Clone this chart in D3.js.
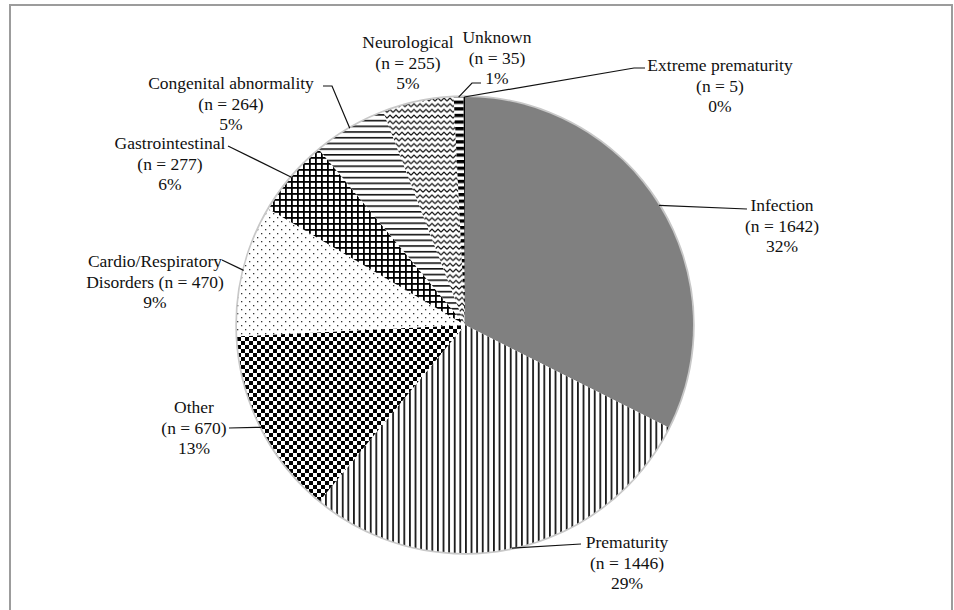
<!DOCTYPE html>
<html><head><meta charset="utf-8">
<script src="https://cdn.jsdelivr.net/npm/d3@7"></script>
<style>html,body{margin:0;padding:0;background:#fff;} svg{display:block;}</style>
</head><body>
<svg id="chart" width="954" height="610"></svg>
<script>
// ---- data ----
const categories = ["Infection", "Prematurity", "Other", "Cardio/Respiratory Disorders", "Gastrointestinal", "Congenital abnormality", "Neurological", "Unknown", "Extreme prematurity"];
const counts = [1642, 1446, 670, 470, 277, 264, 255, 35, 5];
const percents = ["32%", "29%", "13%", "9%", "6%", "5%", "5%", "1%", "0%"];
const labelText = [
  ["Infection", "(n = 1642)", "32%"],
  ["Prematurity", "(n = 1446)", "29%"],
  ["Other", "(n = 670)", "13%"],
  ["Cardio/Respiratory", "Disorders (n = 470)", "9%"],
  ["Gastrointestinal", "(n = 277)", "6%"],
  ["Congenital abnormality", "(n = 264)", "5%"],
  ["Neurological", "(n = 255)", "5%"],
  ["Unknown", "(n = 35)", "1%"],
  ["Extreme prematurity", "(n = 5)", "0%"]
];

// ---- layout (positions / styles) ----
const W = 954, H = 610;
const cx = 465, cy = 325, R = 228;
const lineH = 20.5;
const layout = [
  {x: 782, y: 211, pts: [[747, 209]]},
  {x: 627, y: 548, pts: [[581, 544]]},
  {x: 194, y: 413, pts: [[229, 428]]},
  {x: 155, y: 267, pts: [[222, 260]]},
  {x: 170, y: 149, pts: [[228, 146]]},
  {x: 231, y: 89, pts: [[332, 86], [323, 86]]},
  {x: 408, y: 48, pts: null},
  {x: 497, y: 43, pts: [[472, 83], [481, 83]]},
  {x: 720, y: 71, pts: [[634, 68], [645, 68]]}
];
const fills = ["solid", "vert", "checker", "dots", "grid", "horiz", "zigzag", "bars", "black"];

const svg = d3.select("#chart");
const defs = svg.append("defs");

function pat(id, w, h) {
  const p = defs.append("pattern").attr("id", id).attr("patternUnits", "userSpaceOnUse")
    .attr("width", w).attr("height", h);
  p.append("rect").attr("width", w).attr("height", h).attr("fill", "#fff");
  return p;
}
let p;
p = pat("vert", 5.6, 10); p.append("rect").attr("x", 0).attr("width", 1.8).attr("height", 10).attr("fill", "#1a1a1a");
p = pat("checker", 8, 8); p.append("rect").attr("width", 4).attr("height", 4).attr("fill", "#000");
  p.append("rect").attr("x", 4).attr("y", 4).attr("width", 4).attr("height", 4).attr("fill", "#000");
p = pat("dots", 8, 8); p.append("rect").attr("x", 0).attr("y", 0).attr("width", 1.3).attr("height", 1.3).attr("fill", "#333");
  p.append("rect").attr("x", 4).attr("y", 4).attr("width", 1.3).attr("height", 1.3).attr("fill", "#333");
p = pat("grid", 6, 6); p.append("rect").attr("width", 6).attr("height", 1.8).attr("fill", "#000");
  p.append("rect").attr("width", 1.8).attr("height", 6).attr("fill", "#000");
p = pat("horiz", 10, 5.7); p.append("rect").attr("width", 10).attr("height", 1.6).attr("fill", "#111");
p = pat("zigzag", 6, 5.7); p.append("path").attr("d", "M0,4 L3,1 L6,4").attr("fill", "none").attr("stroke", "#111").attr("stroke-width", 1.2);
p = pat("bars", 10, 6.6); p.append("rect").attr("width", 10).attr("height", 3.3).attr("fill", "#000");

const fillOf = k => k === "solid" ? "#808080" : k === "black" ? "#000" : `url(#${k})`;

// frame
svg.append("rect").attr("x", 10).attr("y", 5).attr("width", 942).attr("height", 640)
  .attr("fill", "none").attr("stroke", "#9c9c9c").attr("stroke-width", 2);

const data = categories.map((c, i) => ({cat: c, count: counts[i], pct: percents[i], i}));
const pie = d3.pie().sort(null).value(d => d.count).startAngle(0).endAngle(2 * Math.PI);
const arcs = pie(data);
const arcGen = d3.arc().innerRadius(0).outerRadius(R);
const edgeArc = d3.arc().innerRadius(R).outerRadius(R);

const g = svg.append("g").attr("transform", `translate(${cx},${cy})`);
g.append("circle").attr("r", R + 0.5).attr("fill", "none").attr("stroke", "#c8c8c8").attr("stroke-width", 2.5);
g.selectAll("path.slice").data(arcs).join("path").attr("class", "slice")
  .attr("d", arcGen).attr("fill", d => fillOf(fills[d.data.i]));

// leader lines
const lines = svg.append("g");
arcs.forEach(d => {
  const L = layout[d.data.i];
  if (!L.pts) return;
  const c = edgeArc.centroid(d);
  const pts = [[c[0] + cx, c[1] + cy], ...L.pts];
  lines.append("path").attr("d", d3.line()(pts)).attr("fill", "none")
    .attr("stroke", "#111").attr("stroke-width", 1.2);
});

// labels
const lab = svg.append("g").attr("font-family", "'Liberation Serif', 'Times New Roman', serif")
  .attr("font-size", 17.5).attr("fill", "#111").attr("text-anchor", "middle");
data.forEach(d => {
  const L = layout[d.i];
  const t = lab.append("text").attr("x", L.x).attr("y", L.y);
  labelText[d.i].forEach((s, k) => {
    t.append("tspan").attr("x", L.x).attr("y", L.y + k * lineH).text(s);
  });
});
</script>
</body></html>
